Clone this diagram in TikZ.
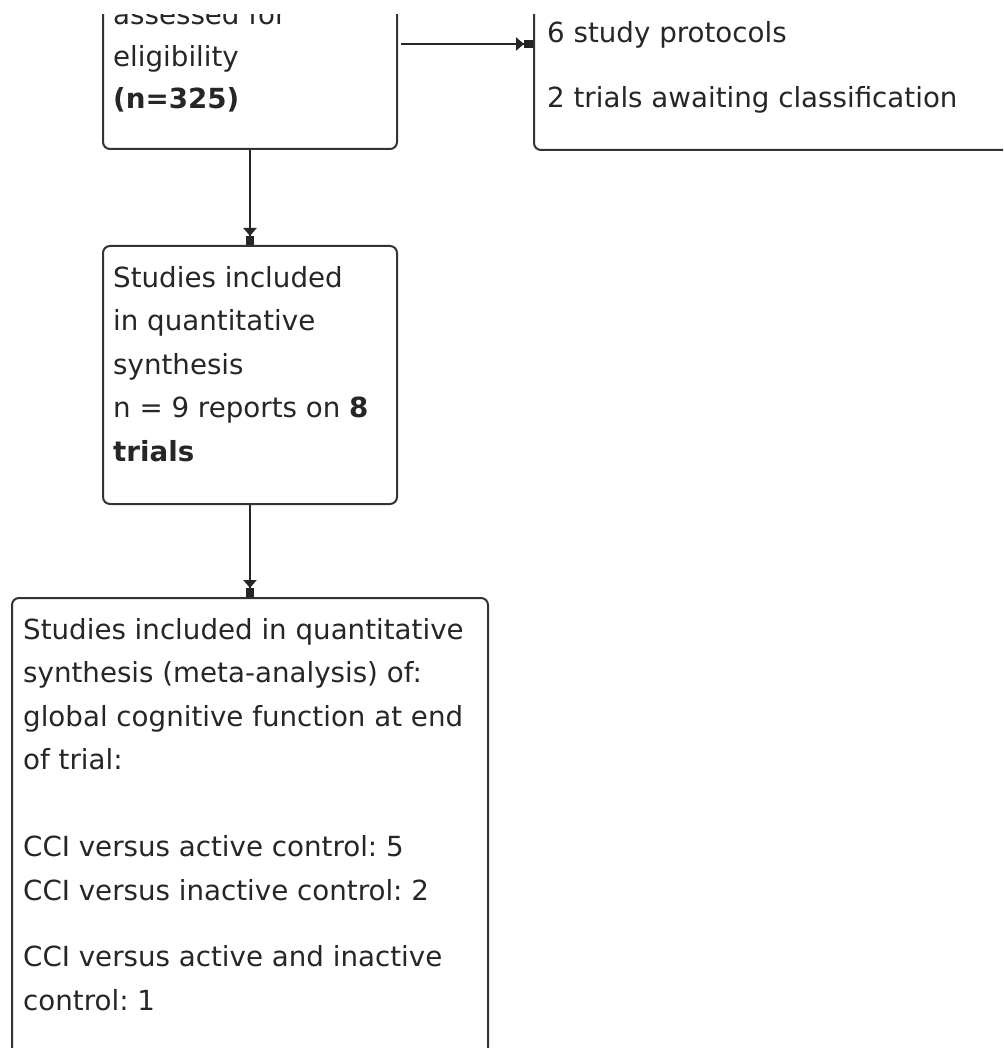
\documentclass[tikz,border=0pt]{standalone}
\usepackage{fontspec}
\setmainfont{DejaVu Sans}
\usetikzlibrary{arrows.meta}
\frenchspacing
\begin{document}
\begin{tikzpicture}[x=1pt,y=-1pt,
  box/.style={draw=black!80, line width=2pt, rounded corners=7pt, inner sep=0pt},
  txt/.style={font=\fontsize{27.7}{43.5}\selectfont\frenchspacing, text=black!85, align=left, anchor=base west, inner sep=0pt},
  link/.style={draw=black!85, line width=2pt, -{Triangle[length=8pt,width=13pt]Rectangle[length=9pt,width=8pt]}}]
\useasboundingbox (0,0) rectangle (1003,1048);
\clip (0,15) rectangle (1003,1048);
% boxes
\node[box, minimum width=294pt, minimum height=250pt, anchor=south west] (elig) at (102,150) {};
\node[box, minimum width=600pt, minimum height=250pt, anchor=south west] (excl) at (533,151) {};
\node[box, minimum width=294pt, minimum height=258pt, anchor=north west] (inc) at (102,245) {};
\node[box, minimum width=476pt, minimum height=470pt, anchor=north west] (meta) at (11,597) {};
% texts (anchored at the baseline of their last line)
\node[txt, font=\fontsize{27.7}{42}\selectfont] (eligtxt) at (113,109) {assessed for\\eligibility\\\textbf{(n=325)}};
\node[txt] (excltxt) at (547,108) {6 study protocols\\[22pt]2 trials awaiting classification};
\node[txt] (inctxt) at (113,461) {Studies included\\in quantitative\\synthesis\\n = 9 reports on \textbf{8}\\\textbf{trials}};
\node[txt] (metatxt) at (23,1010) {Studies included in quantitative\\synthesis (meta-analysis) of:\\global cognitive function at end\\of trial:\\[43.5pt]CCI versus active control: 5\\CCI versus inactive control: 2\\[23pt]CCI versus active and inactive\\control: 1};
% connectors
\draw[link] ([xshift=3pt]elig.east |- 0,44) -- (excl.west |- 0,44);
\draw[link] (elig.south) -- (inc.north);
\draw[link] (inc.south) -- (meta.north);
\end{tikzpicture}
\end{document}
